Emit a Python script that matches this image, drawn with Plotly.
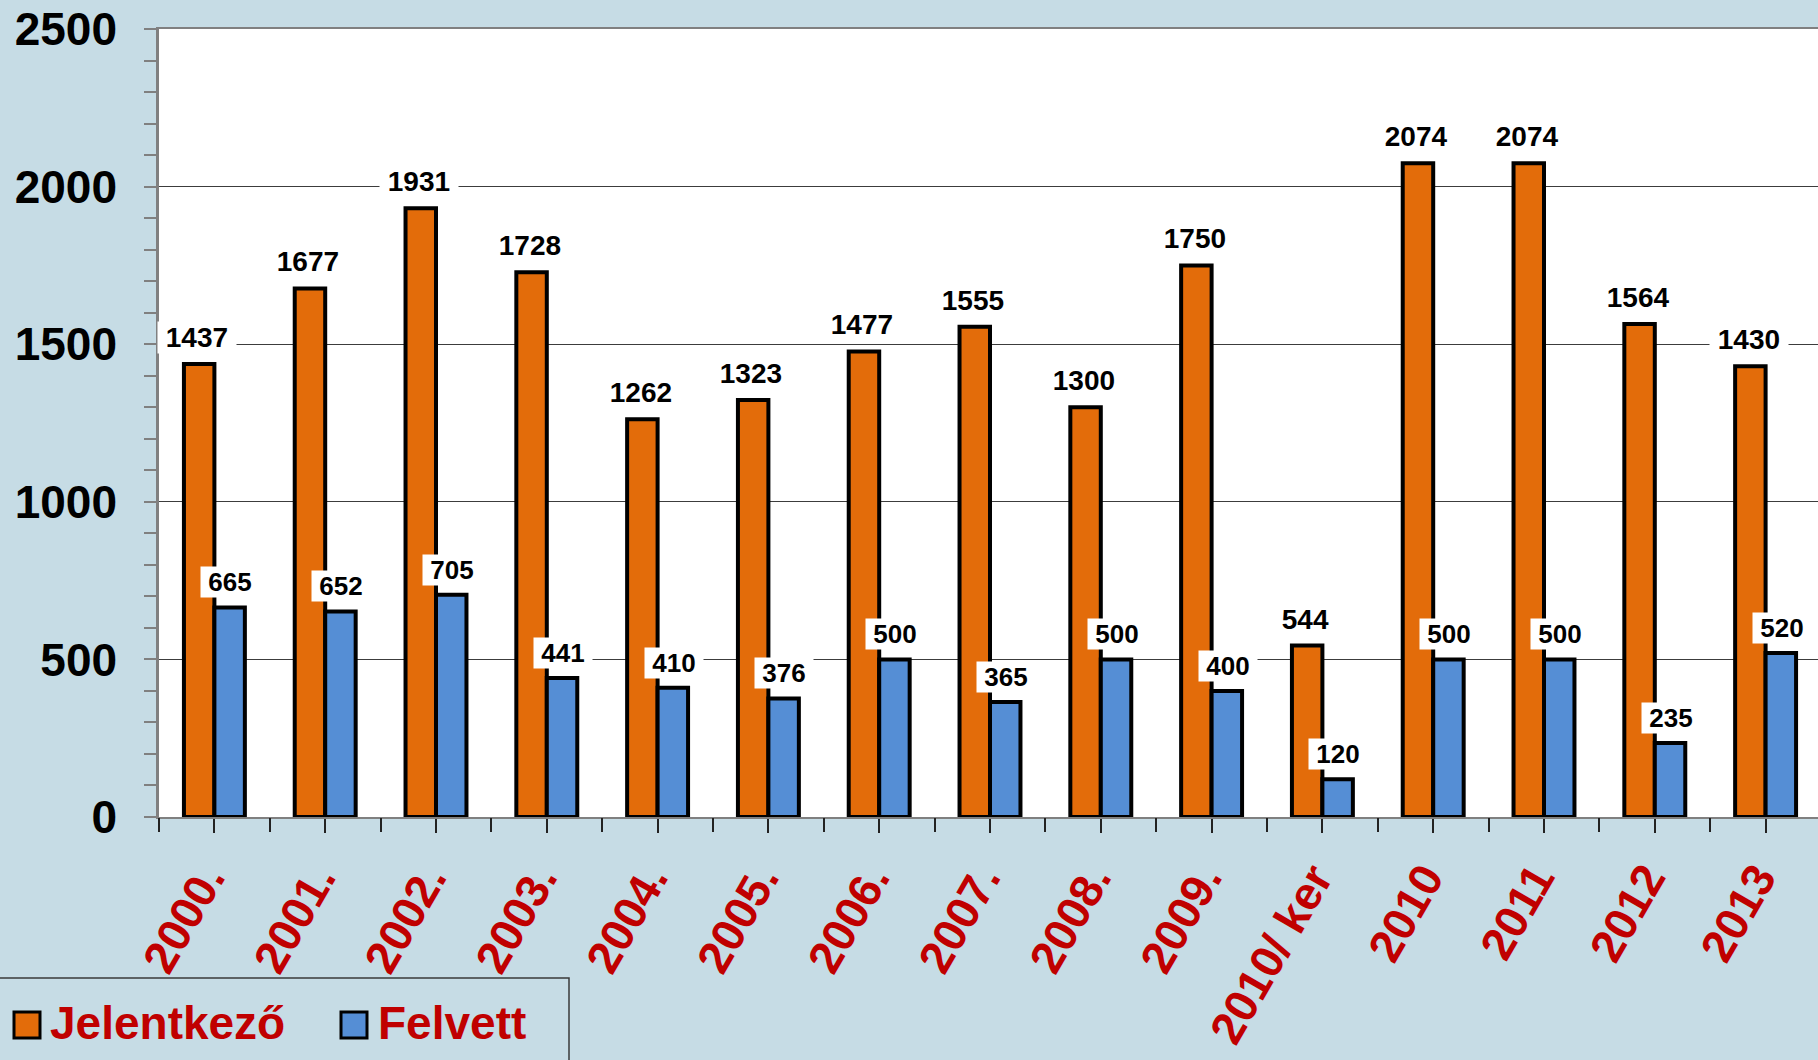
import plotly.graph_objects as go

categories = ["2000.", "2001.", "2002.", "2003.", "2004.", "2005.", "2006.", "2007.",
              "2008.", "2009.", "2010/ ker", "2010", "2011", "2012", "2013"]
jelentkezo = [1437, 1677, 1931, 1728, 1262, 1323, 1477, 1555, 1300, 1750, 544, 2074, 2074, 1564, 1430]
felvett = [665, 652, 705, 441, 410, 376, 500, 365, 500, 400, 120, 500, 500, 235, 520]
series_names = ["Jelentkező", "Felvett"]
series_colors = ["#E36C0A", "#558ED5"]
y_tick_values = [0, 500, 1000, 1500, 2000, 2500]

W, H = 1818, 1060
ML, MR, MT, MB = 159, 0, 29, 243
FONT = "Arial, Liberation Sans, Helvetica, sans-serif"
RED = "#C00000"
BG = "#C6DCE5"

def px_x(p):
    return (p - ML) / (W - ML - MR)

def px_y(p):
    return (H - MB - p) / (H - MB - MT)

fig = go.Figure()
for name, vals, col in zip(series_names, [jelentkezo, felvett], series_colors):
    fig.add_trace(go.Bar(
        x=categories, y=vals, name=name,
        marker=dict(color=col, line=dict(color="#000000", width=4)),
        showlegend=False,
    ))

x_hi = (W - ML) / 110.8 - 0.5
annotations = []
for i, (vj, vf) in enumerate(zip(jelentkezo, felvett)):
    annotations.append(dict(
        x=i, y=vj, xref="x2", yref="y", xanchor="center", yanchor="bottom",
        xshift=-17, yshift=10, text="\u00a0" + str(vj) + "\u00a0", showarrow=False,
        bgcolor="#FFFFFF", borderpad=0,
        font=dict(family=FONT, size=28, color="#000000", weight="bold")))
    annotations.append(dict(
        x=i, y=vf, xref="x2", yref="y", xanchor="center", yanchor="bottom",
        xshift=16, yshift=9, text="\u00a0" + str(vf) + "\u00a0", showarrow=False,
        bgcolor="#FFFFFF", borderpad=0,
        font=dict(family=FONT, size=26, color="#000000", weight="bold")))

# manual legend
shapes = [
    dict(type="rect", xref="paper", yref="paper",
         x0=px_x(-2), x1=px_x(569), y0=px_y(978), y1=px_y(1070),
         line=dict(color="#3A3A3A", width=1.5), fillcolor="rgba(0,0,0,0)", layer="above"),
]
legend_pos = [(14, 48), (341, 376)]
for (sx, tx), name, col in zip(legend_pos, series_names, series_colors):
    shapes.append(dict(type="rect", xref="paper", yref="paper",
                       x0=px_x(sx), x1=px_x(sx + 26), y0=px_y(1012), y1=px_y(1038),
                       line=dict(color="#000000", width=3), fillcolor=col, layer="above"))
    annotations.append(dict(x=px_x(tx), y=px_y(1023), xref="paper", yref="paper",
                            xanchor="left", yanchor="middle", text=name, showarrow=False,
                            font=dict(family=FONT, size=46, color=RED, weight="bold")))

fig.update_layout(
    width=W, height=H,
    margin=dict(l=ML, r=MR, t=MT, b=MB, pad=0),
    paper_bgcolor=BG, plot_bgcolor="#FFFFFF",
    barmode="group", bargap=0.45, bargroupgap=0,
    showlegend=False,
    annotations=annotations, shapes=shapes,
    xaxis=dict(type="category", range=[-0.5, x_hi], showgrid=False, zeroline=False,
               showline=True, linecolor="#808080", linewidth=2, mirror=True,
               ticks="outside", ticklen=14, tickwidth=1.5, tickcolor="#222222",
               tickangle=-60, ticklabelshift=-8,
               tickfont=dict(family=FONT, size=46, color=RED, weight="bold")),
    xaxis2=dict(overlaying="x", anchor="y", side="bottom", range=[-0.5, x_hi],
                tickmode="linear", tick0=-0.5, dtick=1, ticks="outside", ticklen=14,
                tickwidth=1.5, tickcolor="#222222", showticklabels=False,
                showgrid=False, zeroline=False, showline=False),
    yaxis=dict(range=[0, 2500], tickvals=y_tick_values, showgrid=True,
               gridcolor="#3C3C3C", gridwidth=1.2, zeroline=False,
               showline=True, linecolor="#808080", linewidth=2.5,
               ticks="outside", ticklen=12, tickwidth=2, tickcolor="#808080",
               minor=dict(dtick=100, ticks="outside", ticklen=12, tickwidth=2,
                          tickcolor="#808080", showgrid=False),
               ticklabelstandoff=18,
               tickfont=dict(family=FONT, size=46, color="#000000", weight="bold")),
    yaxis2=dict(overlaying="y", anchor="x", side="left", range=[0, 2500],
                tickmode="linear", tick0=0, dtick=100, ticks="inside", ticklen=10,
                tickwidth=2, tickcolor="#808080", showticklabels=False,
                showgrid=False, zeroline=False, showline=False),
)

fig.write_html("out.html", config={"displayModeBar": False},
               post_script="document.body.style.margin='0px';document.body.style.overflow='hidden';")
